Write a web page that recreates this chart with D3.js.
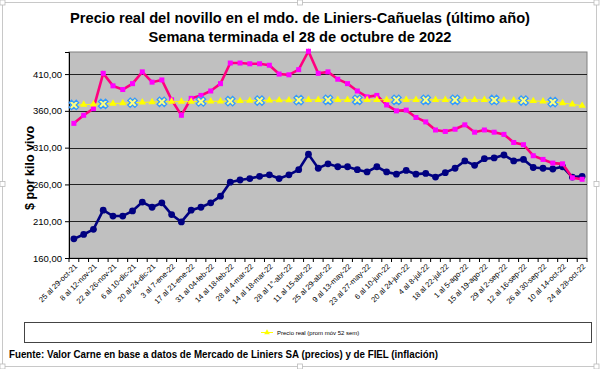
<!DOCTYPE html>
<html lang="es">
<head>
  <meta charset="UTF-8">
  <title>Precio real del novillo</title>
  <script src="https://d3js.org/d3.v7.min.js"></script>
  <style>
    body { margin: 0; background: #fff; font-family: "Liberation Sans", Arial, sans-serif; }
    svg { display: block; }
  </style>
</head>
<body>
<div id="chart"></div>
<script>
  // semanas (53)
  const categories = [
    "25 al 29-oct-21", "1 al 5-nov-21", "8 al 12-nov-21", "15 al 19-nov-21", "22 al 26-nov-21",
    "29-nov al 3-dic-21", "6 al 10-dic-21", "13 al 17-dic-21", "20 al 24-dic-21", "27 al 31-dic-21",
    "3 al 7-ene-22", "10 al 14-ene-22", "17 al 21-ene-22", "24 al 28-ene-22", "31 al 04-feb-22",
    "7 al 11-feb-22", "14 al 18-feb-22", "21 al 25-feb-22", "28 al 4-mar-22", "7 al 11-mar-22",
    "14 al 18-mar-22", "21 al 25-mar-22", "28 al 1°-abr-22", "4 al 8-abr-22", "11 al 15-abr-22",
    "18 al 22-abr-22", "25 al 29-abr-22", "2 al 6-may-22", "9 al 13-may-22", "16 al 20-may-22",
    "23 al 27-may-22", "30 al 3-jun-22", "6 al 10-jun-22", "13 al 17-jun-22", "20 al 24-jun-22",
    "27 al 1-jul-22", "4 al 8-jul-22", "11 al 15-jul-22", "18 al 22-jul-22", "25 al 29-jul-22",
    "1 al 5-ago-22", "8 al 12-ago-22", "15 al 19-ago-22", "22 al 26-ago-22", "29 al 2-sep-22",
    "5 al 9-sep-22", "12 al 16-sep-22", "19 al 23-sep-22", "26 al 30-sep-22", "3 al 7-oct-22",
    "10 al 14-oct-22", "17 al 21-oct-22", "24 al 28-oct-22"
  ];

  // precio real semanal (rosa)
  const precioReal = [
    343, 354, 363, 411, 394, 389, 397, 413, 399, 402,
    375, 354, 377, 381, 387, 397, 425, 425, 424, 424,
    422, 410, 409, 416, 441, 411, 413, 403, 397, 387,
    379, 381, 368, 360, 361, 351, 345, 334, 332, 335,
    341, 331, 334, 331, 328, 317, 314, 299, 294, 289,
    288, 269, 267
  ];

  // precio nominal semanal (azul)
  const precioNominal = [
    186, 192, 199, 225, 217, 217, 224, 236, 229, 235,
    219, 209, 225, 229, 235, 244, 263, 266, 268, 271,
    273, 268, 273, 280, 301, 282, 288, 284, 284, 280,
    277, 284, 277, 274, 279, 274, 275, 270, 276, 282,
    292, 286, 295, 296, 300, 292, 294, 283, 282, 281,
    284, 270, 271
  ];

  // precio real, promedio movil 52 semanas (amarillo)
  const promMovil = [
    368, 368.5, 369, 369.5, 370, 370.5, 371, 371.5, 372, 372.3,
    372.5, 372.5, 372.5, 372.7, 373, 373, 373.2, 373.5, 373.8, 374,
    374.2, 374.5, 374.5, 374.7, 375, 375, 375, 375, 375, 375,
    375, 375, 375, 375, 375, 375, 375, 375, 375, 375,
    375, 375, 375, 374.8, 374.5, 374.2, 374, 373.5, 373, 372,
    370.5, 369, 367
  ];

  // semanas con marca azul sobre el promedio
  const marcas = [0, 3, 6, 9, 13, 16, 19, 23, 26, 29, 33, 36, 39, 43, 46, 49];

  const yTicks = [160, 210, 260, 310, 360, 410];

  const W = 600, H = 369;
  const plot = { left: 69, right: 587, top: 52, bottom: 258 };

  const svg = d3.select("#chart").append("svg")
    .attr("width", W).attr("height", H);

  // marco del objeto
  svg.append("rect")
    .attr("x", 2.5).attr("y", 2.5).attr("width", 594).attr("height", 364)
    .attr("fill", "#fff").attr("stroke", "#c8c8c8");
  [[2.5, 2.5], [300, 2.5], [596.5, 2.5], [2.5, 184], [596.5, 184], [2.5, 366.5], [300, 366.5], [596.5, 366.5]]
    .forEach(p => {
      svg.append("rect")
        .attr("x", p[0] - 2.5).attr("y", p[1] - 2.5).attr("width", 5).attr("height", 5)
        .attr("fill", "#fff").attr("stroke", "#bbb").attr("stroke-width", 0.8);
    });

  const x = d3.scaleBand().domain(d3.range(categories.length))
    .range([plot.left, plot.right]).padding(0);
  const cx = i => x(i) + x.bandwidth() / 2;
  const y = d3.scaleLinear().domain([160, 440]).range([plot.bottom, plot.top]);

  // titulo
  svg.append("text").attr("x", 300).attr("y", 23)
    .attr("text-anchor", "middle").attr("font-size", 14).attr("font-weight", "bold")
    .attr("textLength", 460).attr("lengthAdjust", "spacingAndGlyphs")
    .text("Precio real del novillo en el mdo. de Liniers-Cañuelas (último año)");
  svg.append("text").attr("x", 300).attr("y", 42)
    .attr("text-anchor", "middle").attr("font-size", 14).attr("font-weight", "bold")
    .attr("textLength", 303).attr("lengthAdjust", "spacingAndGlyphs")
    .text("Semana terminada el 28 de octubre de 2022");

  // area de trazado
  svg.append("rect")
    .attr("x", plot.left).attr("y", plot.top)
    .attr("width", plot.right - plot.left).attr("height", plot.bottom - plot.top)
    .attr("fill", "#c0c0c0").attr("stroke", "#808080");

  // grilla
  svg.append("g").selectAll("line").data(yTicks.slice(1)).join("line")
    .attr("x1", plot.left).attr("x2", plot.right)
    .attr("y1", d => Math.round(y(d)) + 0.5).attr("y2", d => Math.round(y(d)) + 0.5)
    .attr("stroke", "#222").attr("stroke-width", 1);

  // eje y
  const yAxis = svg.append("g")
    .attr("transform", `translate(${plot.left},0)`)
    .call(d3.axisLeft(y).tickValues(yTicks).tickSize(4).tickPadding(3)
      .tickFormat(d => d3.format(".2f")(d).replace(".", ",")));
  yAxis.select(".domain").attr("stroke", "#000");
  yAxis.selectAll("text").attr("font-size", 9.5).attr("font-family", "Liberation Sans, Arial");

  svg.append("text")
    .attr("transform", "translate(34,168) rotate(-90)")
    .attr("text-anchor", "middle").attr("font-size", 12.5).attr("font-weight", "bold")
    .text("$ por kilo vivo");

  // eje x: marcas entre categorias
  const xg = svg.append("g");
  xg.append("line").attr("x1", plot.left).attr("x2", plot.right)
    .attr("y1", plot.bottom + 0.5).attr("y2", plot.bottom + 0.5).attr("stroke", "#000");
  xg.selectAll(".tk").data(d3.range(categories.length + 1)).join("line")
    .attr("x1", i => (i < categories.length ? x(i) : plot.right))
    .attr("x2", i => (i < categories.length ? x(i) : plot.right))
    .attr("y1", plot.bottom).attr("y2", plot.bottom + 4).attr("stroke", "#000");
  xg.selectAll("text").data(d3.range(0, categories.length, 2)).join("text")
    .attr("transform", i => `translate(${cx(i) + 2},${plot.bottom + 7}) rotate(-45)`)
    .attr("text-anchor", "end").attr("dy", "0.35em")
    .attr("font-size", 7.6)
    .text(i => categories[i]);

  // series
  const line = d3.line().x((d, i) => cx(i)).y(d => y(d));

  svg.append("path").datum(precioNominal)
    .attr("d", line).attr("fill", "none").attr("stroke", "#000080").attr("stroke-width", 2.6);
  svg.append("g").selectAll("circle").data(precioNominal).join("circle")
    .attr("cx", (d, i) => cx(i)).attr("cy", d => y(d)).attr("r", 3.4)
    .attr("fill", "#000080");

  svg.append("path").datum(precioReal)
    .attr("d", line).attr("fill", "none").attr("stroke", "#ff0080").attr("stroke-width", 2.6);
  svg.append("g").selectAll("rect").data(precioReal).join("rect")
    .attr("x", (d, i) => cx(i) - 2.5).attr("y", d => y(d) - 2.5)
    .attr("width", 5).attr("height", 5).attr("fill", "#ff00ff");

  svg.append("path").datum(promMovil)
    .attr("d", line).attr("fill", "none").attr("stroke", "#ffff00").attr("stroke-width", 1);
  svg.append("g").selectAll("path").data(promMovil).join("path")
    .attr("transform", (d, i) => `translate(${cx(i)},${y(d)})`)
    .attr("d", d3.symbol(d3.symbolTriangle, 24))
    .attr("fill", "#ffff00");

  svg.append("g").selectAll("path").data(marcas).join("path")
    .attr("transform", i => `translate(${cx(i)},${y(promMovil[i])}) rotate(45)`)
    .attr("d", d3.symbol(d3.symbolCross, 55))
    .attr("fill", "#ffff80").attr("stroke", "#3399ff").attr("stroke-width", 1.3);

  // leyenda
  svg.append("rect")
    .attr("x", 24.5).attr("y", 322.5).attr("width", 567).attr("height", 20)
    .attr("fill", "#fff").attr("stroke", "#444");
  svg.append("line").attr("x1", 261).attr("x2", 273).attr("y1", 332.5).attr("y2", 332.5)
    .attr("stroke", "#ffff00");
  svg.append("path").attr("transform", "translate(267,332.5)")
    .attr("d", d3.symbol(d3.symbolTriangle, 14)).attr("fill", "#ffff00");
  svg.append("text").attr("x", 277).attr("y", 334.5)
    .attr("font-size", 6).text("Precio real (prom móv 52 sem)");

  // fuente
  svg.append("text").attr("x", 9).attr("y", 358)
    .attr("font-size", 11).attr("font-weight", "bold")
    .attr("textLength", 429).attr("lengthAdjust", "spacingAndGlyphs")
    .text("Fuente: Valor Carne en base a datos de Mercado de Liniers SA (precios) y de FIEL (inflación)");
</script>
</body>
</html>
